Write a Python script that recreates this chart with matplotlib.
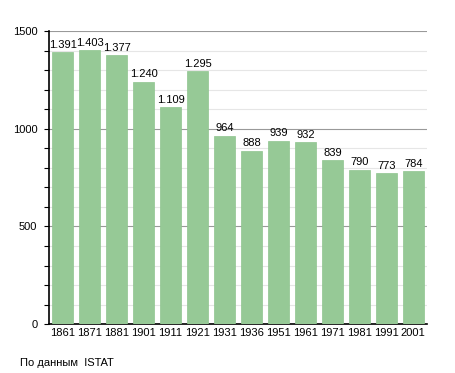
import matplotlib.pyplot as plt
from matplotlib.ticker import MultipleLocator

anni = ['1861', '1871', '1881', '1901', '1911', '1921', '1931',
        '1936', '1951', '1961', '1971', '1981', '1991', '2001']
abitanti = [1391, 1403, 1377, 1240, 1109, 1295, 964,
            888, 939, 932, 839, 790, 773, 784]
etichette = ['1.391', '1.403', '1.377', '1.240', '1.109', '1.295', '964',
             '888', '939', '932', '839', '790', '773', '784']

plt.rcParams['font.family'] = ['Liberation Sans', 'DejaVu Sans']

fig = plt.figure(figsize=(4.55, 3.73), dpi=100)
ax = fig.add_axes([0.108, 0.131, 0.83, 0.786])

x = range(len(anni))
ax.bar(x, abitanti, width=0.78, color='#96c996', edgecolor='#8ec48e', linewidth=0.5, zorder=3)
for i, v in enumerate(abitanti):
    ax.text(i, v + 12, etichette[i], ha='center', va='bottom', fontsize=8, zorder=4)

ax.set_xlim(-0.5, len(anni) - 0.5)
ax.set_ylim(0, 1500)
ax.set_xticks(list(x))
ax.set_xticklabels(anni, fontsize=8)
ax.yaxis.set_major_locator(MultipleLocator(500))
ax.yaxis.set_minor_locator(MultipleLocator(100))
ax.tick_params(axis='y', labelsize=8, length=3.5, width=0.8, pad=5)
ax.tick_params(axis='y', which='minor', length=3.5, width=0.8)
ax.tick_params(axis='x', length=0, pad=3)
ax.grid(axis='y', which='major', color='#999999', linewidth=0.8, zorder=0)
ax.grid(axis='y', which='minor', color='#e6e6e6', linewidth=0.8, zorder=0)
for s in ['top', 'right']:
    ax.spines[s].set_visible(False)
ax.spines['left'].set_linewidth(1.2)
ax.spines['bottom'].set_linewidth(1.2)

fig.text(0.044, 0.02, 'По данным  ISTAT', fontsize=8)

plt.savefig('out.png')
